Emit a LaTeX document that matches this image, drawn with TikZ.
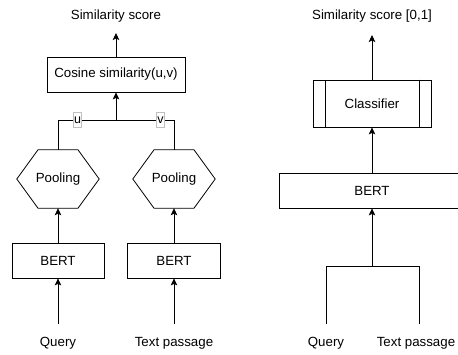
\documentclass[tikz,border=0pt]{standalone}
\usepackage{fontspec}
\setmainfont{Liberation Sans}
\usetikzlibrary{arrows.meta}
\begin{document}
\begin{tikzpicture}[x=1pt,y=-1pt,
  font=\fontsize{13.3}{15}\selectfont,
  box/.style={draw,line width=0.8pt,fill=white,inner sep=0pt},
  lbl/.style={inner sep=0pt,anchor=center},
  wire/.style={line width=0.8pt},
  arr/.style={wire,-{Stealth[length=7pt,width=6.5pt,inset=1.5pt]}},
  vlab/.style={draw=black!25,fill=white,line width=0.5pt,inner sep=0.6pt,
    minimum width=8pt,minimum height=15pt,font=\fontsize{12.5}{14}\selectfont},
  hexa/.style={inner sep=0pt,minimum width=82pt,minimum height=58pt}]
\clip (0,0) rectangle (458,354);
\fill[white] (0,0) rectangle (458,354);

% ---- bi-encoder ----
\node[lbl] (out1) at (116,16) {Similarity score};
\node[box,minimum width=138pt,minimum height=35pt] (cos) at (116,74.5) {Cosine similarity(u,v)};
\coordinate (top1) at (116,33);
\draw[arr] (cos.north) -- (top1);

\node[hexa] (pool1) at (58,179) {Pooling};
\node[hexa] (pool2) at (174,179) {Pooling};
\foreach \p in {pool1,pool2}{
  \draw[wire] ([xshift=-20pt]\p.north) -- ([xshift=20pt]\p.north)
    -- (\p.east) -- ([xshift=20pt]\p.south) -- ([xshift=-20pt]\p.south)
    -- (\p.west) -- cycle;
}

\node[box,minimum width=92pt,minimum height=35pt] (bert1) at (58,260.5) {BERT};
\node[box,minimum width=93pt,minimum height=35pt] (bert2) at (174,260.5) {BERT};

\node[lbl] (q1) at (58,343) {Query};
\node[lbl] (t1) at (174,343) {Text passage};
\coordinate (q1top) at (58,324);
\coordinate (t1top) at (174,324);
\draw[arr] (q1top) -- (bert1.south);
\draw[arr] (t1top) -- (bert2.south);
\draw[arr] (bert1.north) -- (pool1.south);
\draw[arr] (bert2.north) -- (pool2.south);

\coordinate (j1) at (116,120);
\coordinate (c1l) at (58,120);
\coordinate (c1r) at (174,120);
\draw[wire] (pool1.north) -- (c1l) -- (c1r) -- (pool2.north);
\draw[arr] (j1) -- (cos.south);
\node[vlab] (u) at (77.5,120) {u};
\node[vlab] (v) at (160.5,120) {v};

% ---- cross-encoder ----
\node[lbl] (out2) at (372,16) {Similarity score [0,1]};
\node[box,minimum width=118pt,minimum height=47pt] (cls) at (372,103.5) {Classifier};
\draw[wire] ([xshift=12.5pt]cls.north west) -- ([xshift=12.5pt]cls.south west);
\draw[wire] ([xshift=-12.5pt]cls.north east) -- ([xshift=-12.5pt]cls.south east);
\coordinate (top2) at (372,35);
\draw[arr] (cls.north) -- (top2);

\node[box,minimum width=186pt,minimum height=35pt] (bert3) at (372,190.5) {BERT};
\draw[arr] (bert3.north) -- (cls.south);

\node[lbl] (q2) at (326,343) {Query};
\node[lbl] (t2) at (416,343) {Text passage};
\coordinate (q2top) at (326,324);
\coordinate (t2top) at (419,324);
\coordinate (j2) at (372,266);
\coordinate (c2l) at (326,266);
\coordinate (c2r) at (419,266);
\draw[wire] (q2top) -- (c2l) -- (c2r) -- (t2top);
\draw[arr] (j2) -- (bert3.south);
\end{tikzpicture}
\end{document}
